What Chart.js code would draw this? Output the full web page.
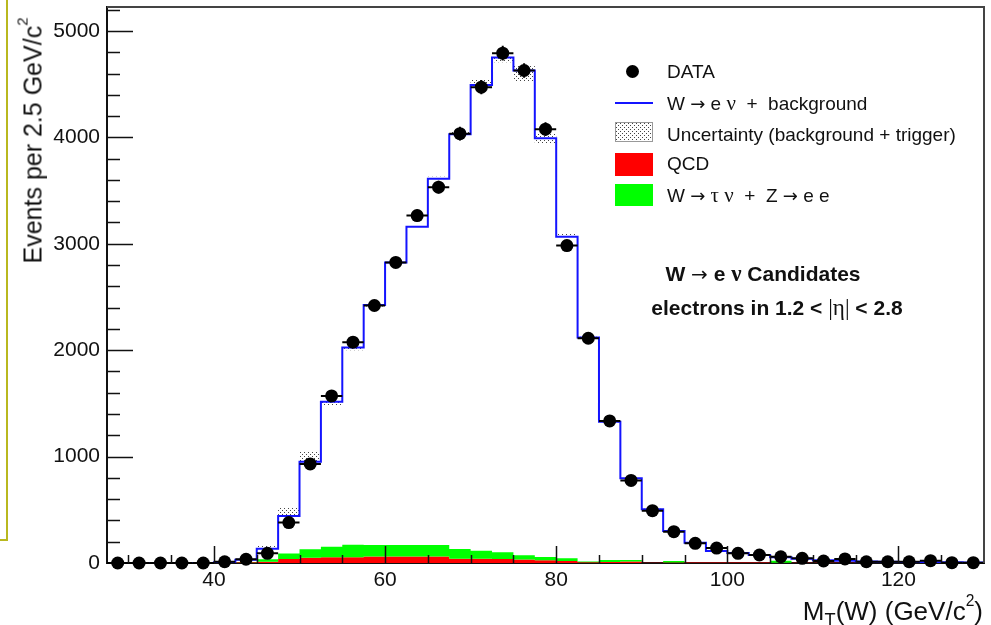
<!DOCTYPE html>
<html>
<head>
<meta charset="utf-8">
<script src="https://cdn.jsdelivr.net/npm/chart.js@4"></script>
<style>
  html, body { margin: 0; padding: 0; background: #fff; }
  #wrap { position: relative; width: 991px; height: 625px; overflow: hidden; font-family: 'Liberation Sans', Arial, sans-serif; color: #111; }
  #c { position: absolute; left: 0; top: 0; }
  .abs { position: absolute; white-space: nowrap; line-height: 1; }
  .gr { font-family: 'Liberation Serif', 'DejaVu Serif', serif; font-size: 1.1em; }
  .ar { font-family: 'DejaVu Sans', sans-serif; font-weight: normal; font-size: 0.95em; }
  .leg { font-size: 19px; left: 667px; }
  .box { position: absolute; left: 615px; width: 38px; }
  .note { font-weight: bold; font-size: 21px; transform: translateX(-50%); }
</style>
</head>
<body>
<div id="wrap">
  <canvas id="c" width="991" height="625"></canvas>
  <!-- olive frame remains on the left of the slide -->
  <div style="position:absolute;left:-10px;top:-5px;width:16px;height:544px;border-right:2px solid #b9b81f;border-bottom:2px solid #b9b81f;"></div>

  <div class="abs" style="left:-123px;top:128px;width:300px;height:25px;font-size:25px;text-align:center;transform:rotate(-90deg);">Events per 2.5 GeV/c<sup style="font-size:0.6em;vertical-align:0.9em">2</sup></div>
  <div class="abs" style="right:8px;top:593px;font-size:26px;">M<sub style="font-size:0.7em;vertical-align:-0.35em">T</sub>(W) (GeV/c<sup style="font-size:0.6em;vertical-align:0.9em">2</sup>)</div>

  <!-- legend -->
  <div class="abs" style="left:626px;top:65px;width:13px;height:13px;border-radius:50%;background:#000;"></div>
  <div class="abs leg" style="top:62px;">DATA</div>
  <div class="abs" style="left:615px;top:102px;width:38px;height:2px;background:#1414ff;"></div>
  <div class="abs leg" style="top:93px;">W <span class="ar">→</span> e <span class="gr">ν</span>&nbsp; + &nbsp;background</div>
  <div class="box" id="hbox" style="top:122px;height:20px;border:1px solid #999;box-sizing:border-box;"></div>
  <div class="abs leg" style="top:125px;">Uncertainty (background + trigger)</div>
  <div class="box" style="top:153px;height:23px;background:#ff0000;"></div>
  <div class="abs leg" style="top:154px;">QCD</div>
  <div class="box" style="top:184px;height:22px;background:#00ff00;"></div>
  <div class="abs leg" style="top:185px;">W <span class="ar">→</span> <span class="gr">τ</span> <span class="gr">ν</span>&nbsp; + &nbsp;Z <span class="ar">→</span> e e</div>

  <div class="abs note" style="left:763px;top:262px;">W <span class="ar">→</span> e <span class="gr">ν</span> Candidates</div>
  <div class="abs note" style="left:777px;top:296px;">electrons in 1.2 &lt; <span class="gr" style="font-weight:normal">|η|</span> &lt; 2.8</div>
</div>

<script>
// lower bin edges, 2.5 GeV wide
const binLow = [27.5, 30, 32.5, 35, 37.5, 40, 42.5, 45, 47.5, 50, 52.5, 55, 57.5, 60, 62.5, 65, 67.5, 70, 72.5, 75,
  77.5, 80, 82.5, 85, 87.5, 90, 92.5, 95, 97.5, 100, 102.5, 105, 107.5, 110, 112.5, 115, 117.5, 120, 122.5, 125, 127.5]
const binWidth = 2.5

const dataEvents = [0, 0, 0, 0, 0, 12, 35, 91, 380, 931, 1570, 2075, 2420, 2825, 3265, 3532, 4035, 4472, 4791, 4628,
  4077, 2983, 2112, 1335, 776, 492, 294, 185, 140, 91, 75, 59, 44, 19, 38, 12, 12, 12, 22, 3, 3]
const mcTotal = [0, 0, 0, 0, 0, 8, 30, 135, 442, 952, 1516, 2024, 2425, 2823, 3161, 3610, 4030, 4493, 4750, 4628,
  3992, 3067, 2118, 1328, 796, 505, 301, 191, 113, 94, 75, 55, 40, 25, 22, 15, 12, 10, 8, 6, 5]
const uncLow = [0, 0, 0, 0, 0, 8, 30, 135, 442, 952, 1476, 2000, 2410, 2810, 3150, 3610, 4030, 4493, 4706, 4525,
  3945, 3060, 2112, 1322, 790, 500, 298, 189, 111, 92, 73, 53, 38, 24, 21, 14, 11, 9, 7, 5, 4]
const uncHigh = [0, 0, 0, 0, 0, 10, 36, 160, 526, 1046, 1516, 2024, 2430, 2830, 3170, 3630, 4050, 4540, 4750, 4675,
  4040, 3100, 2126, 1334, 802, 510, 304, 193, 115, 96, 77, 57, 42, 26, 23, 16, 13, 11, 9, 7, 6]
const qcd = [0, 0, 0, 0, 0, 5, 8, 12, 38, 50, 53, 55, 60, 60, 60, 60, 40, 40, 38, 34,
  25, 18, 8, 10, 15, 3, 4, 4, 4, 4, 4, 3, 3, 3, 3, 3, 3, 2, 2, 2, 2]
const ewk = [0, 0, 0, 0, 0, 1, 2, 23, 52, 79, 100, 117, 109, 109, 109, 109, 92, 76, 62, 38,
  31, 27, 6, 18, 13, 0, 15, 0, 0, 0, 0, 17, 0, 0, 0, 0, 0, 0, 0, 0, 0]

const xTicks = [40, 60, 80, 100, 120]
const yTicks = [0, 1000, 2000, 3000, 4000, 5000]

// step histogram points: one per lower edge + closing point at the last upper edge
function hist(vals) {
  const pts = binLow.map((x, i) => ({ x: x, y: vals[i] }))
  pts.push({ x: binLow[binLow.length - 1] + binWidth, y: vals[vals.length - 1] })
  return pts
}
const stackTop = qcd.map((v, i) => v + ewk[i])
const points = binLow.map((x, i) => ({ x: x + binWidth / 2, y: dataEvents[i] }))

// dotted fill for the uncertainty band
const pc = document.createElement('canvas')
pc.width = 4; pc.height = 4
const pg = pc.getContext('2d')
pg.fillStyle = '#fff'; pg.fillRect(0, 0, 4, 4)
pg.fillStyle = '#444'; pg.fillRect(0, 0, 1, 1); pg.fillRect(2, 2, 1, 1)
document.getElementById('hbox').style.background = 'url(' + pc.toDataURL() + ')'

var ctx = document.getElementById('c').getContext('2d')
const dots = ctx.createPattern(pc, 'repeat')

const rootStyle = {
  id: 'rootStyle',
  afterDatasetsDraw(chart) {
    const c = chart.ctx, xs = chart.scales.x, ys = chart.scales.y, a = chart.chartArea
    c.save()
    // data error bars
    c.strokeStyle = '#000'
    c.lineWidth = 2
    points.forEach(p => {
      const px = xs.getPixelForValue(p.x), py = ys.getPixelForValue(p.y)
      c.beginPath()
      c.moveTo(xs.getPixelForValue(p.x - binWidth / 2), py)
      c.lineTo(xs.getPixelForValue(p.x + binWidth / 2), py)
      const e = Math.sqrt(p.y)
      c.moveTo(px, ys.getPixelForValue(p.y + e))
      c.lineTo(px, ys.getPixelForValue(Math.max(0, p.y - e)))
      c.stroke()
    })
    // inner ticks
    c.strokeStyle = '#111'
    c.lineWidth = 1.5
    c.beginPath()
    for (let v = 200; v <= 5200; v += 200) {
      const y = Math.round(ys.getPixelForValue(v)) + 0.5
      const len = v % 1000 === 0 ? 26 : 13
      c.moveTo(a.left, y); c.lineTo(a.left + len, y)
    }
    for (let v = 30; v < 130; v += 5) {
      const x = Math.round(xs.getPixelForValue(v)) + 0.5
      const len = v % 20 === 0 ? 17 : 8
      c.moveTo(x, a.bottom); c.lineTo(x, a.bottom - len)
    }
    c.stroke()
    // top and right frame
    c.strokeStyle = '#444'
    c.lineWidth = 2
    c.beginPath()
    c.moveTo(a.left, a.top); c.lineTo(a.right, a.top); c.lineTo(a.right, a.bottom)
    c.stroke()
    c.restore()
  }
}

const tickFont = { family: "'Liberation Sans', Arial, sans-serif", size: 21 }

new Chart(ctx, {
  data: {
    datasets: [{
      type: 'scatter',
      label: 'DATA',
      data: points,
      pointRadius: 6.5,
      pointBackgroundColor: '#000',
      pointBorderWidth: 0,
      clip: false,
      order: 0
    }, {
      type: 'line',
      label: 'W -> e nu + background',
      data: hist(mcTotal),
      stepped: true,
      borderColor: '#1414ff',
      borderWidth: 2,
      pointRadius: 0,
      fill: false,
      order: 1
    }, {
      type: 'line',
      label: 'W -> tau nu + Z -> e e',
      data: hist(stackTop),
      stepped: true,
      borderWidth: 0,
      pointRadius: 0,
      backgroundColor: '#00ff00',
      fill: 3,
      order: 2
    }, {
      type: 'line',
      label: 'QCD',
      data: hist(qcd),
      stepped: true,
      borderWidth: 0,
      pointRadius: 0,
      backgroundColor: '#ff0000',
      fill: 'origin',
      order: 3
    }, {
      type: 'line',
      label: 'Uncertainty high',
      data: hist(uncHigh),
      stepped: true,
      borderWidth: 0,
      pointRadius: 0,
      backgroundColor: dots,
      fill: 5,
      order: 4
    }, {
      type: 'line',
      label: 'Uncertainty low',
      data: hist(uncLow),
      stepped: true,
      borderWidth: 0,
      pointRadius: 0,
      fill: false,
      order: 5
    }]
  },
  options: {
    responsive: false,
    animation: false,
    layout: { padding: { left: 0, right: 7, top: 7, bottom: 0 } },
    plugins: { legend: { display: false }, tooltip: { enabled: false } },
    scales: {
      x: {
        type: 'linear', min: 27.5, max: 130,
        afterFit: s => { s.height = 62; s.paddingLeft = 0; s.paddingRight = 0 },
        afterBuildTicks: s => { s.ticks = xTicks.map(v => ({ value: v })) },
        ticks: { font: tickFont, color: '#111', padding: 5, maxRotation: 0, callback: v => String(v) },
        grid: { display: false, drawTicks: false },
        border: { color: '#111', width: 2 }
      },
      y: {
        min: 0, max: 5225,
        afterFit: s => { s.width = 107; s.paddingTop = 0; s.paddingBottom = 0 },
        afterBuildTicks: s => { s.ticks = yTicks.map(v => ({ value: v })) },
        ticks: { font: tickFont, color: '#111', padding: 7, callback: v => String(v) },
        grid: { display: false, drawTicks: false },
        border: { color: '#111', width: 2 }
      }
    }
  },
  plugins: [rootStyle]
})
</script>
</body>
</html>
